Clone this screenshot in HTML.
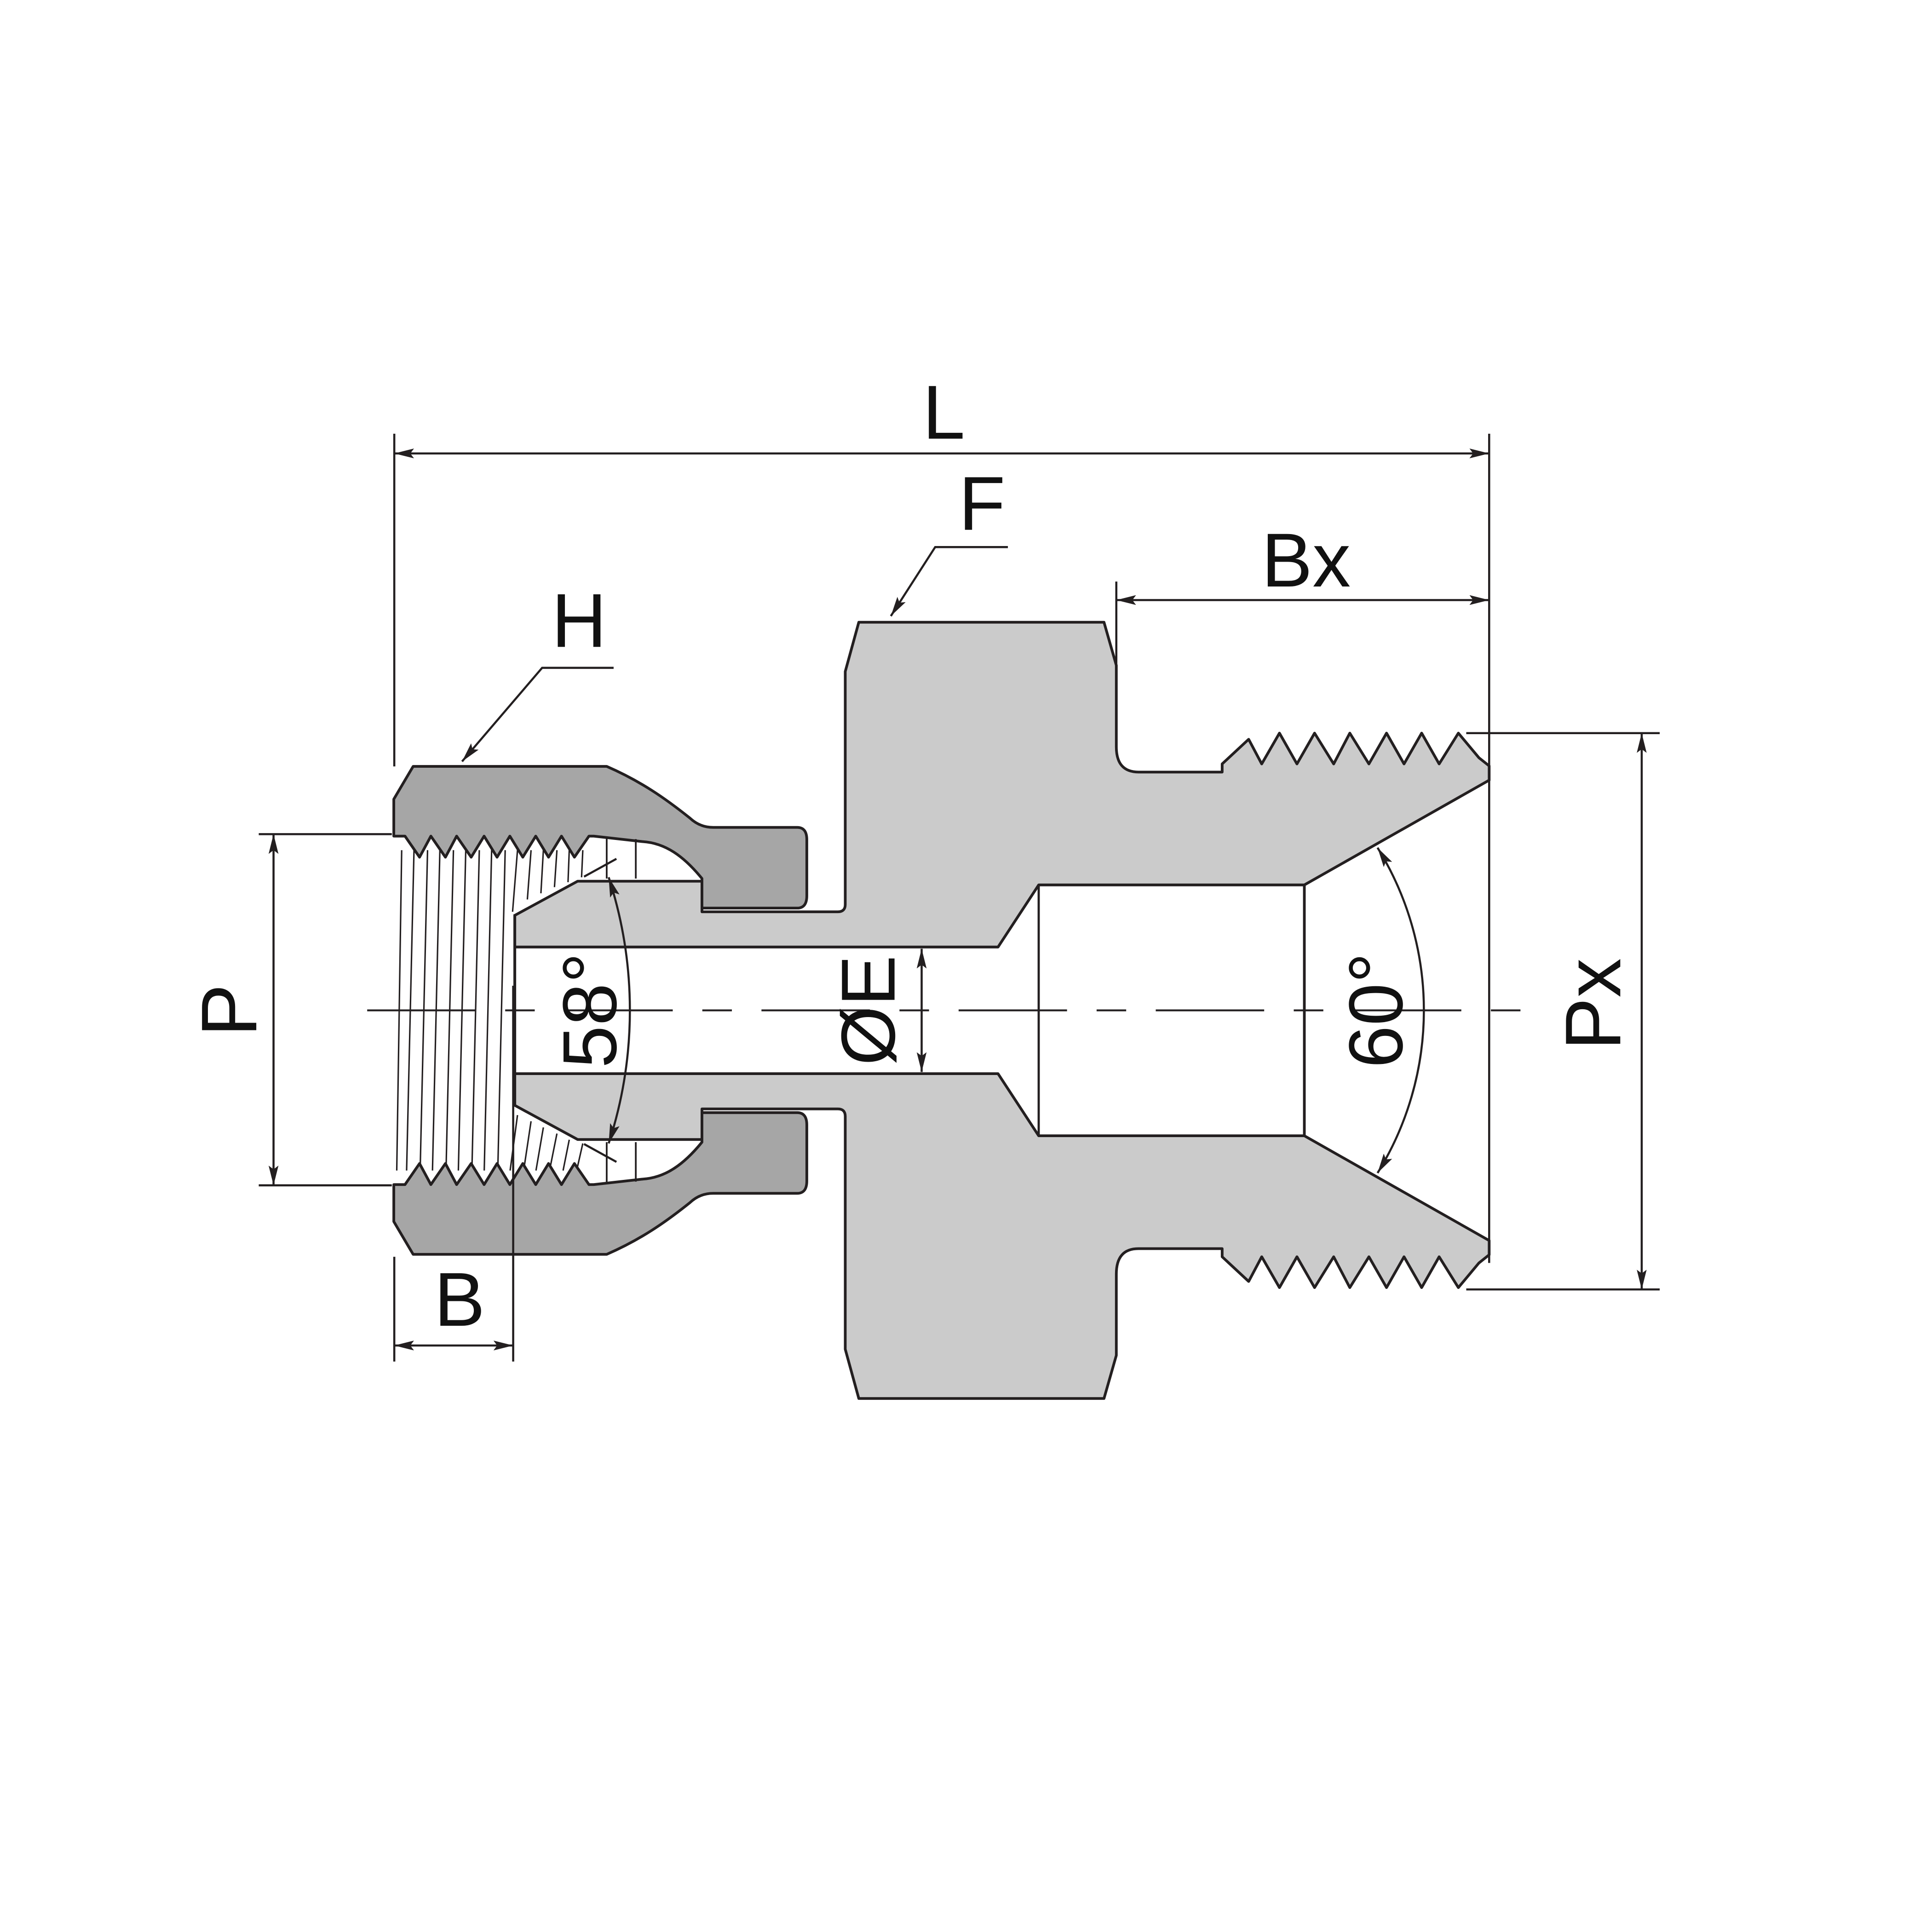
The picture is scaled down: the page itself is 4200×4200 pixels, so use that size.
<!DOCTYPE html>
<html><head><meta charset="utf-8"><style>
html,body{margin:0;padding:0;background:#fff;}
svg{display:block;}
text{font-family:"Liberation Sans",Arial,sans-serif;fill:#111;}
</style></head><body>
<svg width="4200" height="4200" viewBox="0 0 1568 1568" xmlns="http://www.w3.org/2000/svg">
<defs>
<marker id="a" viewBox="0 0 16 8" refX="16" refY="4" markerWidth="17" markerHeight="8" markerUnits="userSpaceOnUse" orient="auto-start-reverse">
<path d="M0,0 L16,4 L0,8 L3,4 Z" fill="#231f20"/>
</marker>
<g id="bodyHalf">
<path d="M417.8,820 L417.8,742.9 L468.8,715.2 L569.7,715.2 L569.7,740 L680,740 Q686,740 686,734 L686,545 L697,505 L896,505 L906,540 L906,606 Q906,626.6 924,626.6 L991.9,626.6 L991.9,620 L1013.4,600 L1024,620 L1038.4,595 L1052.6,620 L1066.9,595 L1082.4,620 L1095.5,595 L1111,620 L1125.3,595 L1139.5,620 L1153.8,595 L1168,620 L1183.6,595 L1200.3,615 L1208.6,621.6 L1208.6,633.2 L1058.6,718.2 L843,718.2 L810,768.6 L417.8,768.6 Z" fill="#cbcbcb" stroke="#231f20" stroke-width="2.2" stroke-linejoin="round"/>
</g>
<g id="nutHalf">
<path d="M319.6,678.6 L319.6,648.6 L335.3,622 L492.4,622 C520,634 540,648 560,664 Q568,671.5 578.8,671.5 L647,671.5 Q654.8,671.5 654.8,681.5 L654.8,727 Q654.8,737 647,737 L569.7,737 L569.7,713 C555,695 540,684 521,683 L481.9,678.6 L478,678.6 L466.2,695.7 L455.7,678.6 L445.2,695.7 L434.8,678.6 L424.3,695.7 L413.8,678.6 L403.4,695.7 L392.9,678.6 L382.4,695.7 L370.6,678.6 L361.5,695.7 L349.7,678.6 L340.5,695.7 L328.7,678.6 Z" fill="#a6a6a6" stroke="#231f20" stroke-width="2.2" stroke-linejoin="round"/>
<line x1="492.4" y1="680" x2="492.4" y2="713" stroke="#231f20" stroke-width="1.4"/>
<line x1="516" y1="681" x2="516" y2="713" stroke="#231f20" stroke-width="1.4"/>
</g>
</defs>

<g stroke="#231f20" stroke-width="1.2">
<line x1="326" y1="690" x2="322" y2="950"/>
<line x1="336" y1="690" x2="330" y2="950"/>
<line x1="347" y1="690" x2="341" y2="950"/>
<line x1="357" y1="690" x2="351" y2="950"/>
<line x1="368" y1="690" x2="362" y2="950"/>
<line x1="378" y1="690" x2="372" y2="950"/>
<line x1="389" y1="690" x2="383" y2="950"/>
<line x1="399" y1="690" x2="393" y2="950"/>
<line x1="410" y1="690" x2="404" y2="950"/>
<line x1="420" y1="690" x2="416" y2="740"/>
<line x1="431" y1="690" x2="428" y2="730"/>
<line x1="441" y1="690" x2="439" y2="725"/>
<line x1="452" y1="690" x2="450" y2="720"/>
<line x1="462" y1="690" x2="461" y2="716"/>
<line x1="473" y1="690" x2="472" y2="712"/>
<line x1="420" y1="905" x2="414" y2="950"/>
<line x1="431" y1="910" x2="425" y2="950"/>
<line x1="441" y1="915" x2="435" y2="950"/>
<line x1="452" y1="920" x2="446" y2="950"/>
<line x1="462" y1="925" x2="457" y2="950"/>
<line x1="473" y1="928" x2="468" y2="950"/>
</g>

<use href="#bodyHalf"/>
<use href="#bodyHalf" transform="translate(0,1640) scale(1,-1)"/>
<line x1="1058.6" y1="718.2" x2="1058.6" y2="921.8" stroke="#231f20" stroke-width="2.2"/>
<line x1="843" y1="718.2" x2="843" y2="921.8" stroke="#231f20" stroke-width="1.8"/>
<line x1="417.8" y1="742" x2="417.8" y2="898" stroke="#231f20" stroke-width="2.2"/>
<use href="#nutHalf"/>
<use href="#nutHalf" transform="translate(0,1640) scale(1,-1)"/>

<line x1="298" y1="820" x2="1252" y2="820" stroke="#231f20" stroke-width="1.5" stroke-dasharray="88 24 24 24"/>

<g stroke="#231f20" stroke-width="1.7" fill="none">
<line x1="320" y1="352" x2="320" y2="622"/>
<line x1="1208.6" y1="352" x2="1208.6" y2="1025"/>
<line x1="320" y1="368" x2="1208.6" y2="368" marker-start="url(#a)" marker-end="url(#a)"/>
<polyline points="818,444 759,444 723,500" marker-end="url(#a)"/>
<line x1="906" y1="472" x2="906" y2="545"/>
<line x1="906" y1="487" x2="1208.6" y2="487" marker-start="url(#a)" marker-end="url(#a)"/>
<polyline points="498,542 440,542 375,618" marker-end="url(#a)"/>
<line x1="210" y1="677" x2="318" y2="677"/>
<line x1="210" y1="962" x2="318" y2="962"/>
<line x1="222" y1="677" x2="222" y2="962" marker-start="url(#a)" marker-end="url(#a)"/>
<line x1="320" y1="1020" x2="320" y2="1105"/>
<line x1="416.5" y1="800" x2="416.5" y2="1105"/>
<line x1="320" y1="1092" x2="416.5" y2="1092" marker-start="url(#a)" marker-end="url(#a)"/>
<line x1="748" y1="770" x2="748" y2="870" marker-start="url(#a)" marker-end="url(#a)"/>
<line x1="1190" y1="595" x2="1347" y2="595"/>
<line x1="1190" y1="1046.5" x2="1347" y2="1046.5"/>
<line x1="1332.4" y1="595" x2="1332.4" y2="1046.5" marker-start="url(#a)" marker-end="url(#a)"/>
<line x1="474" y1="711.5" x2="500.3" y2="697"/>
<line x1="474" y1="928.5" x2="500.3" y2="943"/>
<path d="M494,712 A347.5,347.5 0 0 1 494,928" marker-start="url(#a)" marker-end="url(#a)"/>
<path d="M1118,688 A250.4,250.4 0 0 1 1118,952" marker-start="url(#a)" marker-end="url(#a)"/>
</g>

<text x="766" y="356" font-size="62" text-anchor="middle">L</text>
<text x="797" y="430" font-size="62" text-anchor="middle">F</text>
<text x="1060" y="476" font-size="62" text-anchor="middle">Bx</text>
<text x="470" y="525" font-size="62" text-anchor="middle">H</text>
<text x="373" y="1076" font-size="62" text-anchor="middle">B</text>
<text transform="translate(208,820) rotate(-90)" font-size="64" text-anchor="middle">P</text>
<text transform="translate(500,820) rotate(-90)" font-size="62" text-anchor="middle">58°</text>
<text transform="translate(726,820) rotate(-90)" font-size="62" text-anchor="middle">ØE</text>
<text transform="translate(1138,820) rotate(-90)" font-size="62" text-anchor="middle">60°</text>
<text transform="translate(1315,815) rotate(-90)" font-size="64" text-anchor="middle">Px</text>
</svg>
</body></html>
